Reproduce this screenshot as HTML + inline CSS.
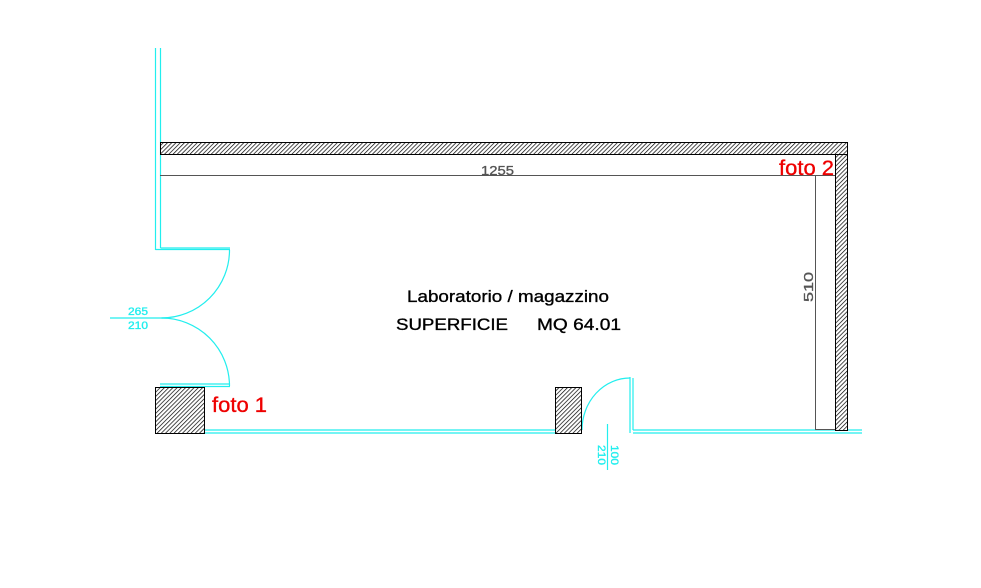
<!DOCTYPE html>
<html><head><meta charset="utf-8"><style>
html,body{margin:0;padding:0;background:#fff;width:981px;height:588px;overflow:hidden}
svg{display:block}
text{font-family:"Liberation Sans",Arial,sans-serif}
</style></head><body>
<svg width="981" height="588" viewBox="0 0 981 588" xmlns="http://www.w3.org/2000/svg">
<defs>
<pattern id="h" width="3" height="3" patternUnits="userSpaceOnUse" patternTransform="rotate(45)">
<rect width="3" height="3" fill="#fff"/><line x1="0" y1="0" x2="0" y2="3" stroke="#000" stroke-width="1.4"/>
</pattern>
</defs>
<g stroke="#2ee" stroke-width="1.2" fill="none">
<line x1="155.5" y1="48" x2="155.5" y2="250"/>
<line x1="160.5" y1="48" x2="160.5" y2="248"/>
<line x1="155.5" y1="249.5" x2="230" y2="249.5"/>
<line x1="160.5" y1="248" x2="230" y2="248"/>
<path d="M229.5,250 A68,68 0 0 1 161.5,318"/>
<path d="M161.5,318 A68,68 0 0 1 229.5,386"/>
<line x1="110" y1="318" x2="168" y2="318"/>
<line x1="160" y1="384" x2="230" y2="384"/>
<line x1="160" y1="386.5" x2="230" y2="386.5"/>
<line x1="204" y1="430" x2="556" y2="430"/>
<line x1="204" y1="433" x2="556" y2="433"/>
<path d="M582,430 A48,52 0 0 1 630,378"/>
<line x1="630" y1="377" x2="630" y2="433"/>
<line x1="633" y1="378" x2="633" y2="430"/>
<line x1="633" y1="430" x2="862" y2="430"/>
<line x1="633" y1="433" x2="862" y2="433"/>
<line x1="607.5" y1="424" x2="607.5" y2="470"/>
</g>
<rect x="160.5" y="142.5" width="687" height="12" fill="url(#h)" stroke="#000" stroke-width="1"/>
<rect x="835.5" y="154.5" width="12" height="276" fill="url(#h)" stroke="#000" stroke-width="1"/>
<rect x="155.5" y="387.5" width="49" height="46" fill="url(#h)" stroke="#000" stroke-width="1"/>
<rect x="555.5" y="387.5" width="26" height="46" fill="url(#h)" stroke="#000" stroke-width="1"/>
<g stroke="#555" stroke-width="1">
<line x1="160" y1="175.5" x2="835" y2="175.5"/>
<line x1="815.5" y1="175" x2="815.5" y2="430"/>
<line x1="815" y1="429.5" x2="835" y2="429.5"/>
</g>
<g stroke-width="0.35">
<text x="481" y="175" font-size="13" fill="#555" stroke="#555" textLength="33" lengthAdjust="spacingAndGlyphs">1255</text>
<text transform="translate(813,302) rotate(-90)" font-size="13" fill="#555" stroke="#555" textLength="30" lengthAdjust="spacingAndGlyphs">510</text>
<text x="407" y="302" font-size="17" fill="#000" stroke="#000" textLength="202" lengthAdjust="spacingAndGlyphs">Laboratorio / magazzino</text>
<text x="396" y="330" font-size="17" fill="#000" stroke="#000" textLength="112" lengthAdjust="spacingAndGlyphs">SUPERFICIE</text>
<text x="537" y="330" font-size="17" fill="#000" stroke="#000" textLength="84" lengthAdjust="spacingAndGlyphs">MQ 64.01</text>
<text x="212" y="412" font-size="21" fill="#e00" stroke="#e00" textLength="55" lengthAdjust="spacingAndGlyphs">foto 1</text>
<text x="779" y="175" font-size="21" fill="#e00" stroke="#e00" textLength="55" lengthAdjust="spacingAndGlyphs">foto 2</text>
<text x="128" y="315" font-size="11" fill="#2ee" stroke="#2ee" textLength="20" lengthAdjust="spacingAndGlyphs">265</text>
<text x="128" y="329" font-size="11" fill="#2ee" stroke="#2ee" textLength="20" lengthAdjust="spacingAndGlyphs">210</text>
<text transform="translate(611,445) rotate(90)" font-size="11" fill="#2ee" stroke="#2ee" textLength="20" lengthAdjust="spacingAndGlyphs">100</text>
<text transform="translate(598,445) rotate(90)" font-size="11" fill="#2ee" stroke="#2ee" textLength="20" lengthAdjust="spacingAndGlyphs">210</text>
</g>
</svg>
</body></html>
